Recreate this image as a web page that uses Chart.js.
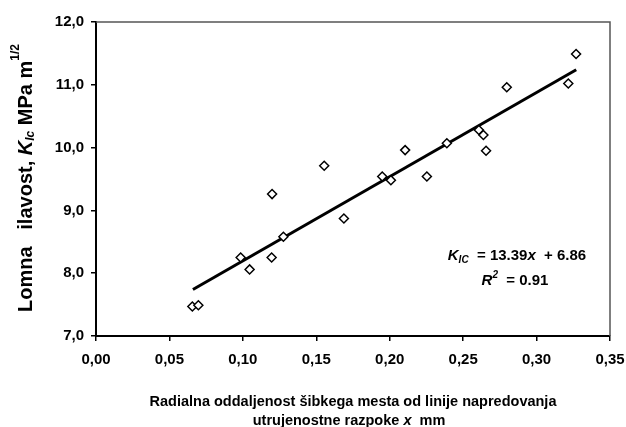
<!DOCTYPE html>
<html>
<head>
<meta charset="utf-8">
<script src="https://cdn.jsdelivr.net/npm/chart.js@4.4.0/dist/chart.umd.min.js"></script>
<style>
html,body{margin:0;padding:0;background:#fff;}
#wrap{width:626px;height:427px;position:relative;}
</style>
</head>
<body>
<div id="wrap"><canvas id="c" width="626" height="427"></canvas></div>
<script>
const xValues = [0.0656, 0.0697, 0.0985, 0.1046, 0.1196, 0.1199, 0.1276, 0.1554, 0.1688, 0.1949, 0.2008, 0.2105, 0.2253, 0.2389, 0.2607, 0.2638, 0.2656, 0.2797, 0.3216, 0.3269];
const yValues = [7.47, 7.49, 8.25, 8.06, 8.25, 9.26, 8.58, 9.71, 8.87, 9.54, 9.48, 9.96, 9.54, 10.07, 10.28, 10.20, 9.95, 10.96, 11.02, 11.49];
const trendX = [0.066, 0.327];
const trendY = [7.74, 11.24];
const xTicks = [0, 0.05, 0.10, 0.15, 0.20, 0.25, 0.30, 0.35];
const yTicks = [7, 8, 9, 10, 11, 12];
const yTitleParts = ["Lomna   ilavost, ", "K", "Ic", " MPa m", "1/2"];
const xTitleLines = ["Radialna oddaljenost šibkega mesta od linije napredovanja", "utrujenostne razpoke ", "x", "  mm"];
const eqParts = ["K", "IC", "  = 13.39", "x", "  + 6.86"];
const r2Parts = ["R", "2", "  = 0.91"];

const FF = '"Liberation Sans", Arial, sans-serif';

function drawRich(ctx, parts, x, y, align) {
  let total = 0;
  parts.forEach(p => { ctx.font = p[1]; total += ctx.measureText(p[0]).width; });
  let cx = align === 'center' ? x - total / 2 : x;
  parts.forEach(p => {
    ctx.font = p[1];
    ctx.fillText(p[0], cx, y + (p[2] || 0));
    cx += ctx.measureText(p[0]).width;
  });
}

const annot = {
  id: 'annot',
  afterDraw(chart) {
    const ctx = chart.ctx;
    const a = chart.chartArea;
    ctx.save();
    ctx.strokeStyle = '#555';
    ctx.lineWidth = 1.5;
    ctx.beginPath();
    ctx.moveTo(a.left, a.top);
    ctx.lineTo(a.right, a.top);
    ctx.lineTo(a.right, a.bottom);
    ctx.stroke();
    ctx.fillStyle = '#000';
    ctx.textAlign = 'left';
    ctx.textBaseline = 'middle';
    const b = 'bold 15px ' + FF, bi = 'italic bold 15px ' + FF, sb = 'italic bold 10px ' + FF;
    drawRich(ctx, [[eqParts[0], bi, 0], [eqParts[1], sb, 4], [eqParts[2], b, 0], [eqParts[3], bi, 0], [eqParts[4], b, 0]], 517, 256, 'center');
    drawRich(ctx, [[r2Parts[0], bi, 0], [r2Parts[1], sb, -6], [r2Parts[2], b, 0]], 515, 281, 'center');
    const xb = 'bold 14.5px ' + FF, xbi = 'italic bold 14.5px ' + FF;
    drawRich(ctx, [[xTitleLines[0], xb, 0]], 353, 402, 'center');
    drawRich(ctx, [[xTitleLines[1], xb, 0], [xTitleLines[2], xbi, 0], [xTitleLines[3], xb, 0]], 349, 421, 'center');
    ctx.translate(26, 178);
    ctx.rotate(-Math.PI / 2);
    const yb = 'bold 20px ' + FF, ybi = 'italic bold 20px ' + FF, ys = 'italic bold 12px ' + FF, ysup = 'bold 12px ' + FF;
    drawRich(ctx, [[yTitleParts[0], yb, 0], [yTitleParts[1], ybi, 0], [yTitleParts[2], ys, 5], [yTitleParts[3], yb, 0], [yTitleParts[4], ysup, -10]], 0, 0, 'center');
    ctx.restore();
  }
};

new Chart(document.getElementById('c'), {
  type: 'scatter',
  data: {
    datasets: [
      {
        type: 'line',
        data: trendX.map((x, i) => ({x: x, y: trendY[i]})),
        borderColor: '#000',
        borderWidth: 3,
        pointRadius: 0,
        fill: false,
        order: 2
      },
      {
        data: xValues.map((x, i) => ({x: x, y: yValues[i]})),
        pointStyle: 'rectRot',
        pointRadius: 4.5,
        pointBackgroundColor: '#fff',
        pointBorderColor: '#000',
        pointBorderWidth: 1.5,
        order: 1
      }
    ]
  },
  options: {
    responsive: false,
    animation: false,
    events: [],
    layout: {padding: {left: 0, right: 0, top: 22, bottom: 0}},
    plugins: {legend: {display: false}, tooltip: {enabled: false}},
    scales: {
      x: {
        type: 'linear', min: 0, max: 0.35,
        afterBuildTicks: s => { s.ticks = xTicks.map(v => ({value: v})); },
        afterFit: s => { s.height = 91; s.paddingRight = 16; },
        grid: {drawOnChartArea: false, drawTicks: true, tickLength: 5, color: '#000', lineWidth: 1.5},
        border: {color: '#000', width: 2},
        ticks: {
          color: '#000', font: {family: FF, size: 15, weight: 'bold'}, padding: 10, maxRotation: 0,
          callback: v => v.toFixed(2).replace('.', ',')
        }
      },
      y: {
        type: 'linear', min: 7, max: 12,
        afterBuildTicks: s => { s.ticks = yTicks.map(v => ({value: v})); },
        afterFit: s => { s.width = 96; },
        grid: {drawOnChartArea: false, drawTicks: true, tickLength: 5, color: '#000', lineWidth: 1.5},
        border: {color: '#000', width: 2},
        ticks: {
          color: '#000', font: {family: FF, size: 15, weight: 'bold'}, padding: 7,
          callback: v => v.toFixed(1).replace('.', ',')
        }
      }
    }
  },
  plugins: [annot]
});
</script>
</body>
</html>
